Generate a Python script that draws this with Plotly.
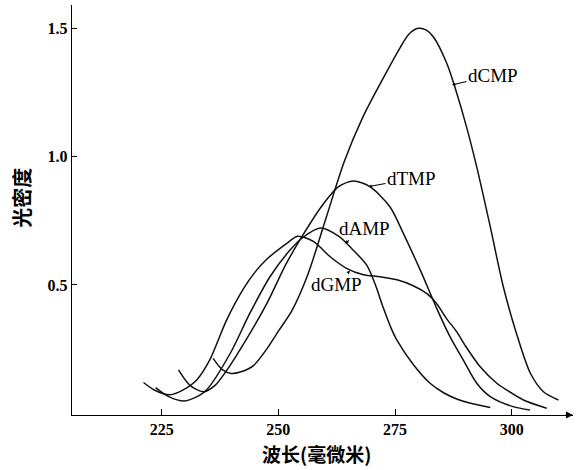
import plotly.graph_objects as go

# Wavelength (nm) / optical density
dgmp_x = [221.1, 223.5, 226.8, 229.5, 232.5, 235.3, 238.9, 242.5, 245.0, 247.5, 251.8, 254.1, 257.5,
          261.1, 264.6, 268.2, 271.8, 275.4, 278.9, 281.9, 284.0, 286.0, 288.2, 290.0, 293.2, 296.8,
          298.9, 302.5, 307.5]
dgmp_y = [0.12, 0.09, 0.072, 0.09, 0.13, 0.208, 0.363, 0.485, 0.55, 0.60, 0.662, 0.69, 0.67,
          0.61, 0.565, 0.54, 0.532, 0.52, 0.497, 0.465, 0.425, 0.37, 0.318, 0.265, 0.182, 0.117,
          0.091, 0.052, 0.02]

damp_x = [223.7, 226.5, 229.8, 232.0, 234.6, 239.7, 243.9, 248.2, 252.5, 255.3, 259.0, 262.9, 265.8,
          268.9, 270.8, 272.5, 274.2, 275.4, 278.9, 282.5, 285.4, 288.2, 291.0, 295.4]
damp_y = [0.10, 0.065, 0.048, 0.06, 0.091, 0.234, 0.39, 0.532, 0.636, 0.686, 0.722, 0.69, 0.64,
          0.578, 0.50, 0.41, 0.33, 0.285, 0.19, 0.117, 0.08, 0.056, 0.04, 0.023]

dtmp_x = [228.6, 231.0, 233.9, 236.5, 239.0, 243.2, 247.6, 251.6, 255.1, 259.2, 262.9, 266.1, 269.6,
          273.9, 276.8, 280.6, 283.9, 286.8, 289.6, 292.5, 295.4, 300.3, 303.9]
dtmp_y = [0.169, 0.11, 0.084, 0.11, 0.169, 0.29, 0.43, 0.58, 0.69, 0.805, 0.883, 0.905, 0.883,
          0.805, 0.70, 0.55, 0.41, 0.298, 0.208, 0.117, 0.065, 0.026, 0.013]

dcmp_x = [236.0, 238.0, 239.9, 242.0, 244.6, 247.5, 250.0, 252.9, 256.3, 260.2, 264.1, 268.0, 272.0,
          276.1, 278.0, 280.0, 281.8, 283.2, 286.1, 287.8, 290.3, 292.5, 295.4, 298.2, 301.0, 304.0,
          306.8, 310.0]
dcmp_y = [0.214, 0.17, 0.155, 0.162, 0.185, 0.25, 0.32, 0.40, 0.54, 0.76, 0.98, 1.15, 1.29,
          1.425, 1.478, 1.50, 1.492, 1.467, 1.363, 1.272, 1.117, 0.96, 0.727, 0.493, 0.312, 0.156,
          0.084, 0.052]

x_ticks = [225, 250, 275, 300]
y_ticks = [0.5, 1.0, 1.5]
y_tick_text = ["0.5", "1.0", "1.5"]

# label name, arrow tip (wavelength, OD), text offset (px)
labels = [
    ("dCMP", 287.2, 1.279, 41, -10),
    ("dTMP", 269.3, 0.883, 43, -8),
    ("dAMP", 264.3, 0.662, 19, -15),
    ("dGMP", 265.35, 0.555, -14, 14),
]

x_title = "波长(毫微米)"
y_title = "光密度"

fig = go.Figure()
for xs, ys, name in [(dgmp_x, dgmp_y, "dGMP"), (damp_x, damp_y, "dAMP"),
                     (dtmp_x, dtmp_y, "dTMP"), (dcmp_x, dcmp_y, "dCMP")]:
    fig.add_trace(go.Scatter(x=xs, y=ys, mode="lines", name=name,
                             line=dict(color="#111111", width=1.5, shape="spline", smoothing=0.8),
                             showlegend=False, hoverinfo="skip"))

X0, X1 = 205.78, 313.13
Y0, Y1 = -0.0066, 1.5908

tickfont = dict(family="Liberation Serif", size=16, color="black", weight="bold")
fig.update_xaxes(range=[X0, X1], showgrid=False, zeroline=False, showline=True,
                 linecolor="black", linewidth=1.4, ticks="inside", ticklen=6, tickwidth=1.2,
                 tickcolor="black", tickvals=x_ticks, ticktext=[str(v) for v in x_ticks],
                 tickfont=tickfont, ticklabelstandoff=0, automargin=False)
fig.update_yaxes(range=[Y0, Y1], showgrid=False, zeroline=False, showline=True,
                 linecolor="black", linewidth=1.4, ticks="inside", ticklen=5, tickwidth=1.2,
                 tickcolor="black", tickvals=y_ticks, ticktext=y_tick_text,
                 tickfont=tickfont, ticklabelstandoff=0, automargin=False)

for name, lx, ly, ax, ay in labels:
    fig.add_annotation(x=lx, y=ly, xref="x", yref="y", text=name, showarrow=True,
                       ax=ax, ay=ay, arrowhead=2, arrowsize=0.6, arrowwidth=1.1,
                       arrowcolor="black", standoff=0,
                       font=dict(family="Liberation Serif", size=19, color="black"))

# arrow at end of x axis
fig.add_annotation(x=X1, y=Y0, xref="x", yref="y", text="", showarrow=True,
                   ax=-9, ay=0, arrowhead=2, arrowsize=1, arrowwidth=1.4, arrowcolor="black",
                   standoff=0)

fig.add_annotation(x=0.488, y=-0.095, xref="paper", yref="paper", text="<b>" + x_title + "</b>",
                   showarrow=False, xanchor="center", yanchor="middle",
                   font=dict(family="Noto Sans CJK SC", size=19, color="black"))
fig.add_annotation(x=-0.0998, y=0.53, xref="paper", yref="paper", text="<b>" + y_title + "</b>",
                   showarrow=False, xanchor="center", yanchor="middle", textangle=-90,
                   font=dict(family="Noto Sans CJK SC", size=20, color="black"))

fig.update_layout(width=587, height=470, autosize=False,
                  margin=dict(l=72, r=14, t=5, b=55),
                  paper_bgcolor="white", plot_bgcolor="white")

fig.write_html("out.html", config={"displayModeBar": False},
               post_script="document.body.style.margin='0';")
